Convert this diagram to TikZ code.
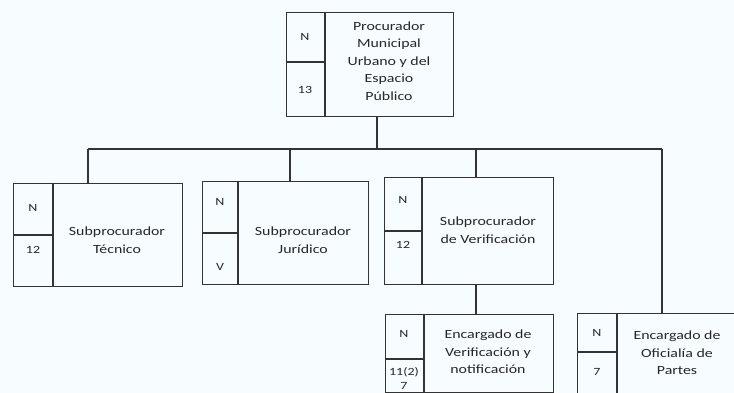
\documentclass[tikz,border=0pt]{standalone}
\usepackage{fontspec}
\setmainfont{Carlito}[FakeStretch=1.27]
\begin{document}
\begin{tikzpicture}[x=1pt,y=-1pt,
  line/.style={draw=black!80,line width=1.1pt},
  box/.style={line,rectangle,inner sep=0pt,anchor=north west},
  txt/.style={align=center,font=\fontsize{12.5}{17.5}\selectfont,text=black!85,inner sep=0pt},
  cell/.style={font=\fontsize{11}{14}\selectfont,text=black!85,inner sep=0pt,align=center}]
\useasboundingbox (0,0) rectangle (734,393);
\fill[white!96!blue!40!white] (0,0) rectangle (734,393);
\fill[white!97!cyan] (0,0) rectangle (734,393);
\clip (0,0) rectangle (734,393);
% boxes
\node[box,minimum width=167,minimum height=104] (top) at (286,12) {};
\node[box,minimum width=169,minimum height=103] (b1) at (13,183) {};
\node[box,minimum width=166,minimum height=103] (b2) at (202,181) {};
\node[box,minimum width=169,minimum height=107] (b3) at (384,177) {};
\node[box,minimum width=168,minimum height=78] (b4) at (385,314) {};
\node[box,minimum width=170,minimum height=80] (b5) at (577,313) {};
% dividers
\draw[line] (325,12) -- (325,116) (286,62) -- (325,62);
\draw[line] (53,183) -- (53,286) (13,235) -- (53,235);
\draw[line] (238,181) -- (238,284) (202,233) -- (238,233);
\draw[line] (422,177) -- (422,284) (384,231) -- (422,231);
\draw[line] (424,314) -- (424,392) (385,359) -- (424,359);
\draw[line] (617,313) -- (617,393) (577,352) -- (617,352);
% texts
\node[txt] (ttop) at (389,61) {Procurador\\Municipal\\Urbano y del\\Espacio\\Público};
\node[cell] (ntop) at (305,37) {N};
\node[cell] (vtop) at (305,90) {13};
\node[txt] (t1) at (117,240) {Subprocurador\\Técnico};
\node[cell] (n1) at (33,208) {N};
\node[cell] (v1) at (33,250) {12};
\node[txt] (t2) at (303,240) {Subprocurador\\Jurídico};
\node[cell] (n2) at (220,202) {N};
\node[cell] (v2) at (220,267) {V};
\node[txt] (t3) at (488,230) {Subprocurador\\de Verificación};
\node[cell] (n3) at (403,200) {N};
\node[cell] (v3) at (403,245) {12};
\node[txt] (t4) at (488,352) {Encargado de\\Verificación y\\notificación};
\node[cell] (n4) at (404,334) {N};
\node[cell] (v4) at (404,378) {11(2)\\7};
\node[txt] (t5) at (677,353) {Encargado de\\Oficialía de\\Partes};
\node[cell] (n5) at (597,333) {N};
\node[cell] (v5) at (597,372) {7};
% connectors
\coordinate (bus) at (377,149);
\coordinate (d1) at (88,149);
\coordinate (d2) at (290,149);
\coordinate (d3) at (476,149);
\coordinate (d5) at (662,149);
\draw[line] (top.south -| bus) -- (bus);
\draw[line] (d1) -- (d5);
\draw[line] (d1) -- (d1 |- b1.north);
\draw[line] (d2) -- (d2 |- b2.north);
\draw[line] (d3) -- (d3 |- b3.north);
\draw[line] (d5) -- (d5 |- b5.north);
\draw[line] (b3.south -| d3) -- (b4.north -| d3);
\end{tikzpicture}
\end{document}
